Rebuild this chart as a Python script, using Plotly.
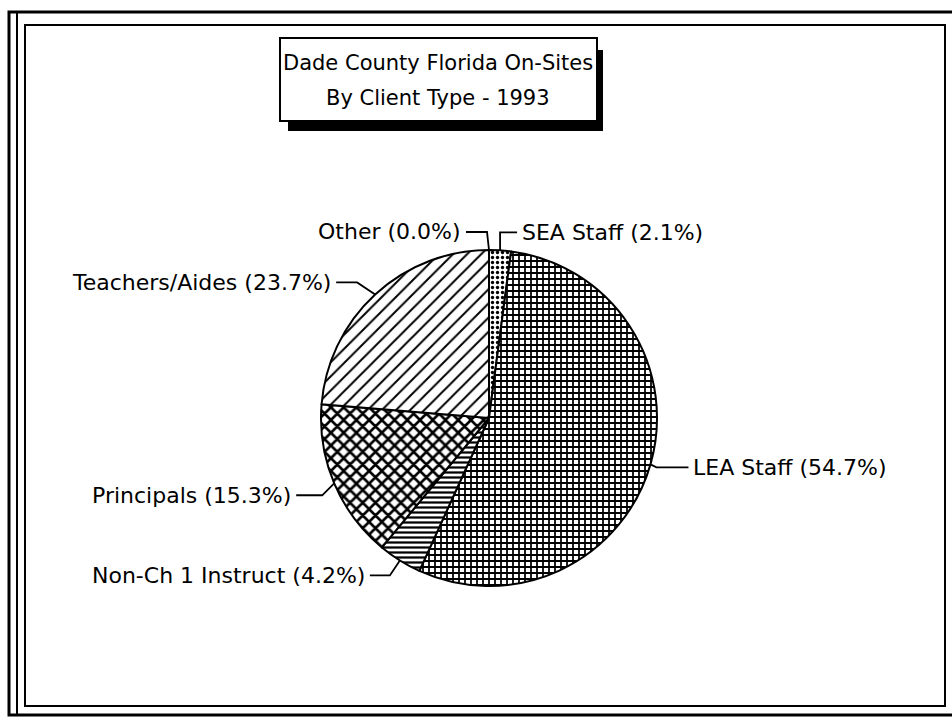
import math
import plotly.graph_objects as go

# ---- data ----
categories = ["SEA Staff", "LEA Staff", "Non-Ch 1 Instruct", "Principals", "Teachers/Aides", "Other"]
shares = [2.1, 54.7, 4.2, 15.3, 23.7, 0.0]
patterns = [".", "+", "-", "x", "/", ""]
title_lines = ["Dade County Florida On-Sites", "By Client Type - 1993"]

# ---- layout geometry (pixels) ----
W, H = 952, 720
CX, CY, R = 489, 418, 168
FONT = "DejaVu Sans, Liberation Sans, Arial, sans-serif"


def px(x):
    return x / W


def py(y):
    return 1 - y / H


fig = go.Figure()
fig.add_trace(go.Pie(
    labels=categories,
    values=shares,
    sort=False,
    direction="clockwise",
    rotation=0,
    textinfo="none",
    hoverinfo="label+percent",
    showlegend=False,
    domain=dict(x=[px(CX - R), px(CX + R)], y=[py(CY + R), py(CY - R)]),
    marker=dict(
        colors=["white"] * len(categories),
        line=dict(color="black", width=2),
        pattern=dict(
            shape=patterns,
            fgcolor="black",
            bgcolor="white",
            size=[5, 6, 5, 9, 10, 6],
            solidity=[0.35, 0.5, 0.45, 0.5, 0.2, 0.3],
        ),
    ),
))

# label placement offsets per slice
label_layout = {
    "SEA Staff": dict(elbow=(0, -18), end_dx=17, side="left"),
    "LEA Staff": dict(elbow=(6, 3), end_dx=38, side="left"),
    "Non-Ch 1 Instruct": dict(elbow=(-10, 15), end_dx=-30, side="right"),
    "Principals": dict(elbow=(-12, 12), end_dx=-38, side="right"),
    "Teachers/Aides": dict(elbow=(-18, -12), end_dx=-39, side="right"),
    "Other": dict(elbow=(-2, -18), end_dx=-23, side="right"),
}

shapes = []
annotations = []
total = sum(shares)
cum = 0.0
for cat, v in zip(categories, shares):
    mid = (cum + v / 2) / total * 2 * math.pi
    cum += v
    ax = CX + R * math.sin(mid)
    ay = CY - R * math.cos(mid)
    lay = label_layout[cat]
    ex, ey = ax + lay["elbow"][0], ay + lay["elbow"][1]
    endx = ax + lay["end_dx"]
    path = f"M {px(ax)} {py(ay)} L {px(ex)} {py(ey)} L {px(endx)} {py(ey)}"
    shapes.append(dict(type="path", path=path, xref="paper", yref="paper",
                       line=dict(color="black", width=1.8)))
    gap = 3
    annotations.append(dict(
        x=px(endx + (gap if lay["side"] == "left" else -gap)), y=py(ey),
        xref="paper", yref="paper",
        text=f"{cat} ({v:.1f}%)",
        showarrow=False,
        xanchor="left" if lay["side"] == "left" else "right",
        yanchor="middle",
        font=dict(family=FONT, size=22, color="black"),
    ))

# title box with drop shadow
shapes.append(dict(type="rect", xref="paper", yref="paper",
                   x0=px(288), y0=py(50), x1=px(603), y1=py(131),
                   fillcolor="black", line=dict(width=0), layer="above"))
shapes.append(dict(type="rect", xref="paper", yref="paper",
                   x0=px(280), y0=py(38), x1=px(597), y1=py(121),
                   fillcolor="white", line=dict(color="black", width=2), layer="above"))
for i, line in enumerate(title_lines):
    annotations.append(dict(
        x=px(438), y=py(63 + 35 * i), xref="paper", yref="paper",
        text=line, showarrow=False, xanchor="center", yanchor="middle",
        font=dict(family=FONT, size=21, color="black"),
    ))

# frame (double border)
shapes.append(dict(type="rect", xref="paper", yref="paper",
                   x0=px(9), y0=py(12), x1=px(960), y1=py(715),
                   line=dict(color="black", width=3)))
shapes.append(dict(type="line", xref="paper", yref="paper",
                   x0=px(17), y0=py(12), x1=px(17), y1=py(715),
                   line=dict(color="black", width=2)))
shapes.append(dict(type="rect", xref="paper", yref="paper",
                   x0=px(25), y0=py(25), x1=px(945), y1=py(706),
                   line=dict(color="black", width=2)))

fig.update_layout(
    width=W, height=H,
    margin=dict(l=0, r=0, t=0, b=0),
    paper_bgcolor="white",
    plot_bgcolor="white",
    shapes=shapes,
    annotations=annotations,
    font=dict(family=FONT, color="black"),
)

fig.write_html(
    "out.html",
    config={"displayModeBar": False},
    post_script="document.body.style.margin='0';document.body.style.overflow='hidden';",
)
